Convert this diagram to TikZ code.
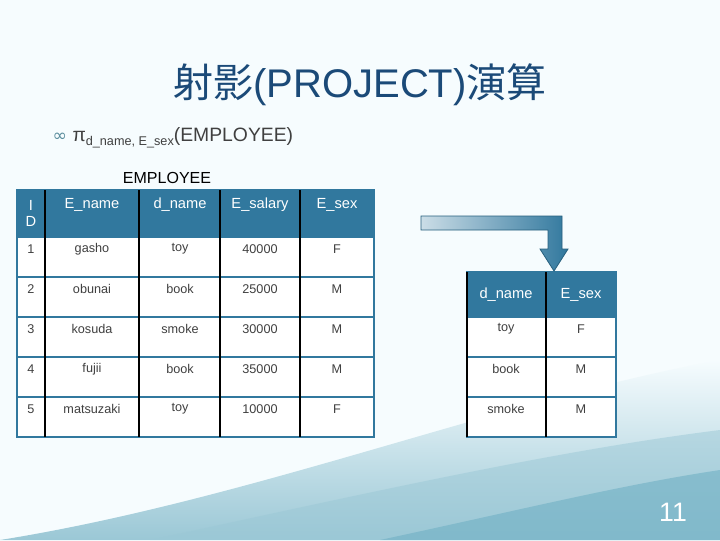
\documentclass[tikz,border=0pt]{standalone}
\usepackage{fontspec}
\setmainfont{Liberation Sans}
\newfontfamily\cjk{Noto Sans CJK JP}
\newfontfamily\dejavu{DejaVu Sans}
\definecolor{bg}{HTML}{F6FCFE}
\definecolor{hdr}{HTML}{31789E}
\definecolor{ttl}{HTML}{1B4A78}
\definecolor{txt}{HTML}{404040}
\definecolor{wave}{HTML}{70B0C4}
\tikzset{
  cell/.style={font=\fontsize{9.5}{11}\selectfont, text=txt},
  hcell/.style={font=\fontsize{11}{12}\selectfont, text=white},
  vline/.style={black, line width=1.4pt},
  hline/.style={hdr, line width=1.2pt},
}
\begin{document}
\begin{tikzpicture}[x=0.75pt,y=-0.75pt]
\useasboundingbox (0,0) rectangle (720,540);
\fill[bg] (0,0) rectangle (720,540);
% background waves
\shade[top color=bg, bottom color=wave!70]
  (0,540) .. controls (250,500) and (500,400) .. (720,360) -- (720,540) -- cycle;
\fill[wave!70, opacity=0.5]
  (150,540) .. controls (380,490) and (560,450) .. (720,430) -- (720,540) -- cycle;
\fill[wave, opacity=0.6]
  (380,540) .. controls (520,510) and (620,485) .. (720,470) -- (720,540) -- cycle;
% title
\node (title) at (360,85) {\fontsize{30}{34}\selectfont\color{ttl}{\cjk 射影}(PROJECT){\cjk 演算}};
\node[anchor=west, text=txt, font=\fontsize{14.5}{16}\selectfont] (proj) at (48,138)
  {{\color{wave!80!black}\dejavu\fontsize{13}{13}\selectfont ∞}\ π\raisebox{-3pt}{\fontsize{9.5}{10}\selectfont d\_name, E\_sex}(EMPLOYEE)};
\node (emp) at (167,178) {\fontsize{12}{14}\selectfont EMPLOYEE};
% left table
\fill[white] (17,237) rectangle (374,437);
\fill[hdr] (17,190) rectangle (374,237);
\foreach \y in {237,277,317,357,397} \draw[hline] (17,\y) -- (374,\y);
\draw[hline] (17,190) rectangle (374,437);
\foreach \x in {45,139,220,300} \draw[vline] (\x,190) -- (\x,437);
\node[hcell, align=center] (h1) at (31,213) {I\\D};
\node[hcell] (h2) at (92,205) {E\_name};
\node[hcell] (h3) at (180,205) {d\_name};
\node[hcell] (h4) at (260,205) {E\_salary};
\node[hcell] (h5) at (337,205) {E\_sex};
\foreach \i/\n/\d/\s/\g [count=\r] in {1/gasho/toy/40000/F,2/obunai/book/25000/M,3/kosuda/smoke/30000/M,4/fujii/book/35000/M,5/matsuzaki/toy/10000/F}{
  \pgfmathsetmacro\yy{249+40*(\r-1)}
  \node[cell] (id\r) at (31,\yy) {\i};
  \node[cell] (nm\r) at (92,\yy) {\n};
  \node[cell] (dn\r) at (180,\yy) {\d};
  \node[cell] (sa\r) at (260,\yy) {\s};
  \node[cell] (sx\r) at (337,\yy) {\g};
}
% right table
\fill[white] (467,317) rectangle (616,437);
\fill[hdr] (467,272) rectangle (616,317);
\foreach \y in {317,357,397} \draw[hline] (467,\y) -- (616,\y);
\draw[hline] (467,272) rectangle (616,437);
\draw[vline] (467,272) -- (467,437);
\draw[vline] (546,272) -- (546,437);
\node[hcell] (r1) at (506,295) {d\_name};
\node[hcell] (r2) at (581,295) {E\_sex};
\foreach \d/\g [count=\r] in {toy/F,book/M,smoke/M}{
  \pgfmathsetmacro\yy{329+40*(\r-1)}
  \node[cell] (rd\r) at (506,\yy) {\d};
  \node[cell] (rs\r) at (581,\yy) {\g};
}
% bent arrow
\shade[left color=hdr!25, right color=hdr, draw=hdr!80!black, line width=0.6pt]
  (421,216) -- (562,216) -- (562,249) -- (568,249) -- (554,271) -- (540,249)
  -- (548,249) -- (548,230) -- (421,230) -- cycle;
\node[text=white] (pg) at (673,512) {\fontsize{20}{22}\selectfont 11};
\end{tikzpicture}
\end{document}
